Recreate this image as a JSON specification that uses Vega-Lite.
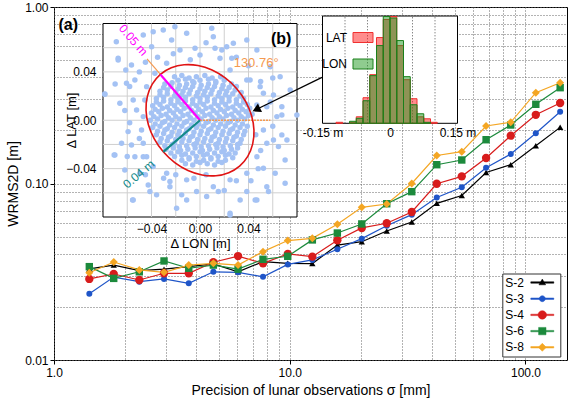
{
  "$schema": "https://vega.github.io/schema/vega-lite/v6.json",
  "width": 513,
  "height": 353,
  "autosize": {"type": "none"},
  "padding": {"left": 54, "top": 7, "right": 1, "bottom": 40},
  "background": "white",
  "config": {
    "font": "Liberation Sans",
    "view": {"stroke": "black", "strokeWidth": 1},
    "axis": {"labelColor": "black", "titleColor": "black", "labelFont": "Liberation Sans", "titleFont": "Liberation Sans"},
    "legend": {"labelFont": "Liberation Sans"}
  },
  "datasets": {
    "main": [
      {"series":"S-2","sigma":1.412,"wrms":0.0328},{"series":"S-2","sigma":1.792,"wrms":0.0345},{"series":"S-2","sigma":2.301,"wrms":0.0321},{"series":"S-2","sigma":2.929,"wrms":0.0327},{"series":"S-2","sigma":3.729,"wrms":0.0338},{"series":"S-2","sigma":4.742,"wrms":0.0350},{"series":"S-2","sigma":6.035,"wrms":0.0316},{"series":"S-2","sigma":7.702,"wrms":0.0361},{"series":"S-2","sigma":9.806,"wrms":0.0353},{"series":"S-2","sigma":12.47,"wrms":0.0352},{"series":"S-2","sigma":15.92,"wrms":0.0448},{"series":"S-2","sigma":20.21,"wrms":0.0468},{"series":"S-2","sigma":25.79,"wrms":0.0538},{"series":"S-2","sigma":32.93,"wrms":0.0605},{"series":"S-2","sigma":42.04,"wrms":0.0772},{"series":"S-2","sigma":53.67,"wrms":0.0855},{"series":"S-2","sigma":68.06,"wrms":0.1154},{"series":"S-2","sigma":86.6,"wrms":0.1278},{"series":"S-2","sigma":110.6,"wrms":0.1635},{"series":"S-2","sigma":140.3,"wrms":0.208},
      {"series":"S-3","sigma":1.412,"wrms":0.0237},{"series":"S-3","sigma":1.792,"wrms":0.0295},{"series":"S-3","sigma":2.301,"wrms":0.0278},{"series":"S-3","sigma":2.929,"wrms":0.0288},{"series":"S-3","sigma":3.729,"wrms":0.0272},{"series":"S-3","sigma":4.742,"wrms":0.0316},{"series":"S-3","sigma":6.035,"wrms":0.0314},{"series":"S-3","sigma":7.702,"wrms":0.0296},{"series":"S-3","sigma":9.806,"wrms":0.0348},{"series":"S-3","sigma":12.47,"wrms":0.0369},{"series":"S-3","sigma":15.92,"wrms":0.0424},{"series":"S-3","sigma":20.21,"wrms":0.0487},{"series":"S-3","sigma":25.79,"wrms":0.0576},{"series":"S-3","sigma":32.93,"wrms":0.0666},{"series":"S-3","sigma":42.04,"wrms":0.0833},{"series":"S-3","sigma":53.67,"wrms":0.0952},{"series":"S-3","sigma":68.06,"wrms":0.1229},{"series":"S-3","sigma":86.6,"wrms":0.1469},{"series":"S-3","sigma":110.6,"wrms":0.1925},{"series":"S-3","sigma":140.3,"wrms":0.255},
      {"series":"S-4","sigma":1.412,"wrms":0.0288},{"series":"S-4","sigma":1.792,"wrms":0.0307},{"series":"S-4","sigma":2.301,"wrms":0.0284},{"series":"S-4","sigma":2.929,"wrms":0.0310},{"series":"S-4","sigma":3.729,"wrms":0.0310},{"series":"S-4","sigma":4.742,"wrms":0.0358},{"series":"S-4","sigma":6.035,"wrms":0.0388},{"series":"S-4","sigma":7.702,"wrms":0.0353},{"series":"S-4","sigma":9.806,"wrms":0.0399},{"series":"S-4","sigma":12.47,"wrms":0.0385},{"series":"S-4","sigma":15.92,"wrms":0.0477},{"series":"S-4","sigma":20.21,"wrms":0.0560},{"series":"S-4","sigma":25.79,"wrms":0.0595},{"series":"S-4","sigma":32.93,"wrms":0.0690},{"series":"S-4","sigma":42.04,"wrms":0.0997},{"series":"S-4","sigma":53.67,"wrms":0.1098},{"series":"S-4","sigma":68.06,"wrms":0.1395},{"series":"S-4","sigma":86.6,"wrms":0.1866},{"series":"S-4","sigma":110.6,"wrms":0.245},{"series":"S-4","sigma":140.3,"wrms":0.286},
      {"series":"S-6","sigma":1.412,"wrms":0.0338},{"series":"S-6","sigma":1.792,"wrms":0.0290},{"series":"S-6","sigma":2.301,"wrms":0.0316},{"series":"S-6","sigma":2.929,"wrms":0.0364},{"series":"S-6","sigma":3.729,"wrms":0.0331},{"series":"S-6","sigma":4.742,"wrms":0.0345},{"series":"S-6","sigma":6.035,"wrms":0.0327},{"series":"S-6","sigma":7.702,"wrms":0.0372},{"series":"S-6","sigma":9.806,"wrms":0.0387},{"series":"S-6","sigma":12.47,"wrms":0.0479},{"series":"S-6","sigma":15.92,"wrms":0.0524},{"series":"S-6","sigma":20.21,"wrms":0.0590},{"series":"S-6","sigma":25.79,"wrms":0.0768},{"series":"S-6","sigma":32.93,"wrms":0.0899},{"series":"S-6","sigma":42.04,"wrms":0.1278},{"series":"S-6","sigma":53.67,"wrms":0.1359},{"series":"S-6","sigma":68.06,"wrms":0.177},{"series":"S-6","sigma":86.6,"wrms":0.2145},{"series":"S-6","sigma":110.6,"wrms":0.281},{"series":"S-6","sigma":140.3,"wrms":0.349},
      {"series":"S-8","sigma":1.412,"wrms":0.0312},{"series":"S-8","sigma":1.792,"wrms":0.0359},{"series":"S-8","sigma":2.301,"wrms":0.0324},{"series":"S-8","sigma":2.929,"wrms":0.0314},{"series":"S-8","sigma":3.729,"wrms":0.0345},{"series":"S-8","sigma":4.742,"wrms":0.0353},{"series":"S-8","sigma":6.035,"wrms":0.0345},{"series":"S-8","sigma":7.702,"wrms":0.0411},{"series":"S-8","sigma":9.806,"wrms":0.0475},{"series":"S-8","sigma":12.47,"wrms":0.0489},{"series":"S-8","sigma":15.92,"wrms":0.0587},{"series":"S-8","sigma":20.21,"wrms":0.0733},{"series":"S-8","sigma":25.79,"wrms":0.0765},{"series":"S-8","sigma":32.93,"wrms":0.100},{"series":"S-8","sigma":42.04,"wrms":0.1441},{"series":"S-8","sigma":53.67,"wrms":0.1514},{"series":"S-8","sigma":68.06,"wrms":0.2117},{"series":"S-8","sigma":86.6,"wrms":0.2222},{"series":"S-8","sigma":110.6,"wrms":0.327},{"series":"S-8","sigma":140.3,"wrms":0.3725}
    ],
    "scatter": [
      {"lon":-0.021,"lat":0.036},{"lon":-0.015,"lat":0.037},{"lon":-0.009,"lat":0.035},{"lon":-0.003,"lat":0.036},{"lon":0.004,"lat":0.037},{"lon":0.010,"lat":0.035},{"lon":0.017,"lat":0.036},
      {"lon":-0.029,"lat":0.030},{"lon":-0.023,"lat":0.031},{"lon":-0.017,"lat":0.029},{"lon":-0.011,"lat":0.030},{"lon":-0.005,"lat":0.031},{"lon":0.001,"lat":0.029},{"lon":0.007,"lat":0.030},{"lon":0.013,"lat":0.031},{"lon":0.019,"lat":0.029},{"lon":0.026,"lat":0.030},
      {"lon":-0.033,"lat":0.024},{"lon":-0.027,"lat":0.025},{"lon":-0.020,"lat":0.023},{"lon":-0.014,"lat":0.024},{"lon":-0.008,"lat":0.025},{"lon":-0.002,"lat":0.023},{"lon":0.004,"lat":0.024},{"lon":0.010,"lat":0.025},{"lon":0.016,"lat":0.023},{"lon":0.022,"lat":0.024},{"lon":0.029,"lat":0.025},{"lon":0.034,"lat":0.023},
      {"lon":-0.036,"lat":0.018},{"lon":-0.030,"lat":0.019},{"lon":-0.024,"lat":0.017},{"lon":-0.018,"lat":0.018},{"lon":-0.012,"lat":0.019},{"lon":-0.006,"lat":0.017},{"lon":0.000,"lat":0.018},{"lon":0.006,"lat":0.019},{"lon":0.012,"lat":0.017},{"lon":0.018,"lat":0.018},{"lon":0.024,"lat":0.019},{"lon":0.030,"lat":0.017},{"lon":0.036,"lat":0.018},
      {"lon":-0.039,"lat":0.012},{"lon":-0.033,"lat":0.013},{"lon":-0.027,"lat":0.011},{"lon":-0.021,"lat":0.012},{"lon":-0.015,"lat":0.013},{"lon":-0.009,"lat":0.011},{"lon":-0.003,"lat":0.012},{"lon":0.003,"lat":0.013},{"lon":0.009,"lat":0.011},{"lon":0.015,"lat":0.012},{"lon":0.021,"lat":0.013},{"lon":0.027,"lat":0.011},{"lon":0.033,"lat":0.012},{"lon":0.039,"lat":0.013},
      {"lon":-0.040,"lat":0.006},{"lon":-0.034,"lat":0.007},{"lon":-0.028,"lat":0.005},{"lon":-0.022,"lat":0.006},{"lon":-0.016,"lat":0.007},{"lon":-0.010,"lat":0.005},{"lon":-0.004,"lat":0.006},{"lon":0.002,"lat":0.007},{"lon":0.008,"lat":0.005},{"lon":0.014,"lat":0.006},{"lon":0.020,"lat":0.007},{"lon":0.026,"lat":0.005},{"lon":0.032,"lat":0.006},{"lon":0.038,"lat":0.007},{"lon":0.043,"lat":0.005},
      {"lon":-0.041,"lat":0.000},{"lon":-0.035,"lat":0.001},{"lon":-0.029,"lat":-0.001},{"lon":-0.023,"lat":0.000},{"lon":-0.017,"lat":0.001},{"lon":-0.011,"lat":-0.001},{"lon":-0.005,"lat":0.000},{"lon":0.001,"lat":0.001},{"lon":0.007,"lat":-0.001},{"lon":0.013,"lat":0.000},{"lon":0.019,"lat":0.001},{"lon":0.025,"lat":-0.001},{"lon":0.031,"lat":0.000},{"lon":0.037,"lat":0.001},
      {"lon":-0.039,"lat":-0.006},{"lon":-0.033,"lat":-0.005},{"lon":-0.027,"lat":-0.007},{"lon":-0.021,"lat":-0.006},{"lon":-0.015,"lat":-0.005},{"lon":-0.009,"lat":-0.007},{"lon":-0.003,"lat":-0.006},{"lon":0.003,"lat":-0.005},{"lon":0.009,"lat":-0.007},{"lon":0.015,"lat":-0.006},{"lon":0.021,"lat":-0.005},{"lon":0.027,"lat":-0.007},{"lon":0.033,"lat":-0.006},{"lon":0.039,"lat":-0.005},
      {"lon":-0.036,"lat":-0.012},{"lon":-0.030,"lat":-0.011},{"lon":-0.024,"lat":-0.013},{"lon":-0.018,"lat":-0.012},{"lon":-0.012,"lat":-0.011},{"lon":-0.006,"lat":-0.013},{"lon":0.000,"lat":-0.012},{"lon":0.006,"lat":-0.011},{"lon":0.012,"lat":-0.013},{"lon":0.018,"lat":-0.012},{"lon":0.024,"lat":-0.011},{"lon":0.030,"lat":-0.013},{"lon":0.036,"lat":-0.012},
      {"lon":-0.033,"lat":-0.018},{"lon":-0.027,"lat":-0.017},{"lon":-0.021,"lat":-0.019},{"lon":-0.015,"lat":-0.018},{"lon":-0.009,"lat":-0.017},{"lon":-0.003,"lat":-0.019},{"lon":0.003,"lat":-0.018},{"lon":0.009,"lat":-0.017},{"lon":0.015,"lat":-0.019},{"lon":0.021,"lat":-0.018},{"lon":0.027,"lat":-0.017},{"lon":0.033,"lat":-0.019},
      {"lon":-0.028,"lat":-0.024},{"lon":-0.022,"lat":-0.023},{"lon":-0.016,"lat":-0.025},{"lon":-0.010,"lat":-0.024},{"lon":-0.004,"lat":-0.023},{"lon":0.002,"lat":-0.025},{"lon":0.008,"lat":-0.024},{"lon":0.014,"lat":-0.023},{"lon":0.020,"lat":-0.025},{"lon":0.026,"lat":-0.024},{"lon":0.031,"lat":-0.023},
      {"lon":-0.021,"lat":-0.030},{"lon":-0.015,"lat":-0.029},{"lon":-0.009,"lat":-0.031},{"lon":-0.003,"lat":-0.030},{"lon":0.003,"lat":-0.029},{"lon":0.009,"lat":-0.031},{"lon":0.015,"lat":-0.030},{"lon":0.021,"lat":-0.029},{"lon":0.027,"lat":-0.031},
      {"lon":-0.012,"lat":-0.036},{"lon":-0.006,"lat":-0.037},{"lon":0.000,"lat":-0.035},{"lon":0.006,"lat":-0.036},{"lon":0.012,"lat":-0.037},{"lon":0.018,"lat":-0.035},
      {"lon":-0.018,"lat":0.033},{"lon":-0.012,"lat":0.034},{"lon":-0.006,"lat":0.032},{"lon":0.000,"lat":0.033},{"lon":0.007,"lat":0.034},{"lon":0.013,"lat":0.032},{"lon":0.020,"lat":0.033},
      {"lon":-0.030,"lat":0.027},{"lon":-0.024,"lat":0.028},{"lon":-0.018,"lat":0.026},{"lon":-0.012,"lat":0.027},{"lon":-0.006,"lat":0.028},{"lon":0.000,"lat":0.026},{"lon":0.006,"lat":0.027},{"lon":0.012,"lat":0.028},{"lon":0.018,"lat":0.026},{"lon":0.024,"lat":0.027},{"lon":0.030,"lat":0.028},
      {"lon":-0.033,"lat":0.021},{"lon":-0.027,"lat":0.022},{"lon":-0.021,"lat":0.020},{"lon":-0.015,"lat":0.021},{"lon":-0.009,"lat":0.022},{"lon":-0.003,"lat":0.020},{"lon":0.003,"lat":0.021},{"lon":0.009,"lat":0.022},{"lon":0.015,"lat":0.020},{"lon":0.021,"lat":0.021},{"lon":0.027,"lat":0.022},{"lon":0.033,"lat":0.020},
      {"lon":-0.036,"lat":0.015},{"lon":-0.030,"lat":0.016},{"lon":-0.024,"lat":0.014},{"lon":-0.018,"lat":0.015},{"lon":-0.012,"lat":0.016},{"lon":-0.006,"lat":0.014},{"lon":0.000,"lat":0.015},{"lon":0.006,"lat":0.016},{"lon":0.012,"lat":0.014},{"lon":0.018,"lat":0.015},{"lon":0.024,"lat":0.016},{"lon":0.030,"lat":0.014},{"lon":0.036,"lat":0.015},
      {"lon":-0.037,"lat":0.009},{"lon":-0.031,"lat":0.010},{"lon":-0.025,"lat":0.008},{"lon":-0.019,"lat":0.009},{"lon":-0.013,"lat":0.010},{"lon":-0.007,"lat":0.008},{"lon":-0.001,"lat":0.009},{"lon":0.005,"lat":0.010},{"lon":0.011,"lat":0.008},{"lon":0.017,"lat":0.009},{"lon":0.023,"lat":0.010},{"lon":0.029,"lat":0.008},{"lon":0.035,"lat":0.009},{"lon":0.041,"lat":0.010},
      {"lon":-0.038,"lat":0.003},{"lon":-0.032,"lat":0.004},{"lon":-0.026,"lat":0.002},{"lon":-0.020,"lat":0.003},{"lon":-0.014,"lat":0.004},{"lon":-0.008,"lat":0.002},{"lon":-0.002,"lat":0.003},{"lon":0.004,"lat":0.004},{"lon":0.010,"lat":0.002},{"lon":0.016,"lat":0.003},{"lon":0.022,"lat":0.004},{"lon":0.028,"lat":0.002},{"lon":0.034,"lat":0.003},{"lon":0.040,"lat":0.004},
      {"lon":-0.037,"lat":-0.003},{"lon":-0.031,"lat":-0.002},{"lon":-0.025,"lat":-0.004},{"lon":-0.019,"lat":-0.003},{"lon":-0.013,"lat":-0.002},{"lon":-0.007,"lat":-0.004},{"lon":-0.001,"lat":-0.003},{"lon":0.005,"lat":-0.002},{"lon":0.011,"lat":-0.004},{"lon":0.017,"lat":-0.003},{"lon":0.023,"lat":-0.002},{"lon":0.029,"lat":-0.004},{"lon":0.035,"lat":-0.003},
      {"lon":-0.035,"lat":-0.009},{"lon":-0.029,"lat":-0.008},{"lon":-0.023,"lat":-0.010},{"lon":-0.017,"lat":-0.009},{"lon":-0.011,"lat":-0.008},{"lon":-0.005,"lat":-0.010},{"lon":0.001,"lat":-0.009},{"lon":0.007,"lat":-0.008},{"lon":0.013,"lat":-0.010},{"lon":0.019,"lat":-0.009},{"lon":0.025,"lat":-0.008},{"lon":0.031,"lat":-0.010},{"lon":0.037,"lat":-0.009},
      {"lon":-0.032,"lat":-0.015},{"lon":-0.026,"lat":-0.014},{"lon":-0.020,"lat":-0.016},{"lon":-0.014,"lat":-0.015},{"lon":-0.008,"lat":-0.014},{"lon":-0.002,"lat":-0.016},{"lon":0.004,"lat":-0.015},{"lon":0.010,"lat":-0.014},{"lon":0.016,"lat":-0.016},{"lon":0.022,"lat":-0.015},{"lon":0.028,"lat":-0.014},{"lon":0.034,"lat":-0.016},
      {"lon":-0.029,"lat":-0.021},{"lon":-0.023,"lat":-0.020},{"lon":-0.017,"lat":-0.022},{"lon":-0.011,"lat":-0.021},{"lon":-0.005,"lat":-0.020},{"lon":0.001,"lat":-0.022},{"lon":0.007,"lat":-0.021},{"lon":0.013,"lat":-0.020},{"lon":0.019,"lat":-0.022},{"lon":0.025,"lat":-0.021},{"lon":0.031,"lat":-0.020},
      {"lon":-0.024,"lat":-0.027},{"lon":-0.018,"lat":-0.026},{"lon":-0.012,"lat":-0.028},{"lon":-0.006,"lat":-0.027},{"lon":0.000,"lat":-0.026},{"lon":0.006,"lat":-0.028},{"lon":0.012,"lat":-0.027},{"lon":0.018,"lat":-0.026},{"lon":0.024,"lat":-0.028},{"lon":0.029,"lat":-0.027},
      {"lon":-0.015,"lat":-0.033},{"lon":-0.009,"lat":-0.032},{"lon":-0.003,"lat":-0.034},{"lon":0.003,"lat":-0.033},{"lon":0.009,"lat":-0.032},{"lon":0.015,"lat":-0.034},{"lon":0.021,"lat":-0.033},
      {"lon":-0.069,"lat":0.065},{"lon":-0.0675,"lat":0.0498},{"lon":-0.0785,"lat":0.0215},{"lon":-0.0708,"lat":-0.0287},{"lon":-0.0556,"lat":-0.0659},{"lon":-0.0612,"lat":0.0415},{"lon":-0.0537,"lat":0.0333},{"lon":-0.0551,"lat":0.0168},{"lon":-0.0523,"lat":0.0085},{"lon":-0.0593,"lat":-0.0094},{"lon":-0.0565,"lat":-0.0204},{"lon":-0.0537,"lat":-0.0301},{"lon":-0.0496,"lat":-0.0438},{"lon":-0.0427,"lat":-0.0535},{"lon":-0.0358,"lat":-0.0617},{"lon":-0.0248,"lat":-0.0549},{"lon":-0.0151,"lat":-0.0617},{"lon":-0.0028,"lat":-0.059},{"lon":0.0248,"lat":-0.0769},{"lon":0.0331,"lat":-0.0659},{"lon":0.0469,"lat":-0.0659},{"lon":0.0565,"lat":-0.059},{"lon":0.062,"lat":-0.0438},{"lon":0.0702,"lat":-0.0328},{"lon":0.0647,"lat":-0.0218},{"lon":0.0717,"lat":-0.0163},{"lon":0.0634,"lat":0.003},{"lon":0.0744,"lat":0.025},{"lon":0.0661,"lat":0.036},{"lon":0.0579,"lat":0.0443},{"lon":0.0469,"lat":0.0581},{"lon":0.0275,"lat":0.0636},{"lon":0.011,"lat":0.0691},{"lon":-0.011,"lat":0.0719},{"lon":-0.0303,"lat":0.0746},{"lon":-0.0399,"lat":0.0608},{"lon":-0.0468,"lat":0.0705},{"lon":-0.0165,"lat":0.0581},{"lon":0.0,"lat":0.054},{"lon":0.0165,"lat":0.0512},{"lon":0.0248,"lat":0.0416},{"lon":0.0386,"lat":0.0333},{"lon":0.0523,"lat":0.0223},{"lon":0.0551,"lat":0.0112},{"lon":0.0523,"lat":-0.008},{"lon":0.0551,"lat":-0.019},{"lon":0.0469,"lat":-0.0301},{"lon":0.0386,"lat":-0.0438},{"lon":0.0248,"lat":-0.0493},{"lon":0.011,"lat":-0.0549},{"lon":-0.011,"lat":-0.0493},{"lon":-0.0275,"lat":-0.0438},{"lon":-0.0386,"lat":-0.0383},{"lon":-0.044,"lat":-0.0301},{"lon":-0.0468,"lat":-0.019},{"lon":-0.0482,"lat":-0.008},{"lon":-0.0468,"lat":0.003},{"lon":-0.0455,"lat":0.0168},{"lon":-0.044,"lat":0.0278},{"lon":-0.0372,"lat":0.0388},{"lon":-0.0275,"lat":0.0471},
      {"lon":-0.0702,"lat":-0.0287},{"lon":-0.0647,"lat":-0.019},{"lon":-0.0551,"lat":-0.0659},{"lon":-0.0193,"lat":-0.0727},{"lon":-0.011,"lat":-0.0659},{"lon":0.0055,"lat":-0.0631},{"lon":0.0151,"lat":-0.059},{"lon":0.0248,"lat":-0.0783},{"lon":0.0455,"lat":-0.0659},{"lon":0.0551,"lat":-0.0549},{"lon":0.0675,"lat":-0.0121},{"lon":0.0702,"lat":-0.0521},{"lon":0.0606,"lat":-0.0163},{"lon":0.0523,"lat":-0.0397},{"lon":0.0386,"lat":-0.059},{"lon":-0.0248,"lat":-0.0507},{"lon":-0.0413,"lat":-0.059},{"lon":-0.0468,"lat":-0.0301},{"lon":-0.062,"lat":-0.0411},
      {"lon":-0.0785,"lat":0.0217},{"lon":-0.0675,"lat":0.0512},{"lon":-0.0661,"lat":0.014},{"lon":-0.0606,"lat":0.0306},{"lon":-0.0565,"lat":0.0457},{"lon":-0.0386,"lat":0.0732},{"lon":-0.0234,"lat":0.0664},{"lon":-0.0207,"lat":0.0774},{"lon":-0.0041,"lat":0.0595},{"lon":0.0097,"lat":0.076},{"lon":0.0124,"lat":0.0595},{"lon":0.022,"lat":0.0608},{"lon":0.0386,"lat":0.0664},{"lon":0.0262,"lat":0.0512},{"lon":0.0413,"lat":0.0333},{"lon":0.0496,"lat":0.0278},{"lon":0.0606,"lat":0.0209},{"lon":0.0675,"lat":0.0044},{"lon":0.0799,"lat":0.0044},{"lon":0.0675,"lat":0.0112},{"lon":0.0469,"lat":0.0126},
      {"lon":-0.050,"lat":0.040},{"lon":-0.045,"lat":0.048},{"lon":-0.058,"lat":0.028},{"lon":-0.062,"lat":0.008},{"lon":-0.058,"lat":-0.002},{"lon":-0.050,"lat":-0.015},{"lon":-0.060,"lat":-0.030},{"lon":-0.045,"lat":-0.045},{"lon":-0.030,"lat":-0.048},{"lon":-0.020,"lat":-0.045},{"lon":-0.005,"lat":-0.048},{"lon":0.005,"lat":-0.045},{"lon":0.020,"lat":-0.058},{"lon":0.030,"lat":-0.050},{"lon":0.042,"lat":-0.050},{"lon":0.048,"lat":-0.040},{"lon":0.050,"lat":-0.025},{"lon":0.046,"lat":-0.012},{"lon":0.060,"lat":-0.005},{"lon":0.058,"lat":0.015},{"lon":0.050,"lat":0.032},{"lon":0.040,"lat":0.045},{"lon":0.030,"lat":0.052},{"lon":0.018,"lat":0.058},{"lon":0.005,"lat":0.064},{"lon":-0.008,"lat":0.050},{"lon":-0.022,"lat":0.055},{"lon":-0.035,"lat":0.052},{"lon":0.060,"lat":0.035},{"lon":-0.070,"lat":0.030}
    ],
    "ellipse": [
      {"i":0,"ex":-0.03265,"ey":0.03787},{"i":1,"ex":-0.03938,"ey":0.02981},{"i":2,"ex":-0.04342,"ey":0.01973},{"i":3,"ex":-0.04451,"ey":0.00830},{"i":4,"ex":-0.04256,"ey":-0.00369},{"i":5,"ex":-0.03771,"ey":-0.01543},{"i":6,"ex":-0.03029,"ey":-0.02612},{"i":7,"ex":-0.02081,"ey":-0.03503},{"i":8,"ex":-0.00991,"ey":-0.04155},{"i":9,"ex":0.00167,"ey":-0.04524},{"i":10,"ex":0.01313,"ey":-0.04585},{"i":11,"ex":0.02370,"ey":-0.04333},
      {"i":12,"ex":0.03265,"ey":-0.03787},{"i":13,"ex":0.03938,"ey":-0.02981},{"i":14,"ex":0.04342,"ey":-0.01973},{"i":15,"ex":0.04451,"ey":-0.00830},{"i":16,"ex":0.04256,"ey":0.00369},{"i":17,"ex":0.03771,"ey":0.01543},{"i":18,"ex":0.03029,"ey":0.02612},{"i":19,"ex":0.02081,"ey":0.03503},{"i":20,"ex":0.00991,"ey":0.04155},{"i":21,"ex":-0.00167,"ey":0.04524},{"i":22,"ex":-0.01313,"ey":0.04585},{"i":23,"ex":-0.02370,"ey":0.04333}
    ],
    "hist": [
      {"comp":"LAT","b0":-0.12,"b1":-0.105,"n":2},{"comp":"LAT","b0":-0.09,"b1":-0.075,"n":2},{"comp":"LAT","b0":-0.075,"b1":-0.06,"n":13},{"comp":"LAT","b0":-0.06,"b1":-0.045,"n":51},{"comp":"LAT","b0":-0.045,"b1":-0.03,"n":97},{"comp":"LAT","b0":-0.03,"b1":-0.015,"n":171},{"comp":"LAT","b0":-0.015,"b1":0,"n":207},{"comp":"LAT","b0":0,"b1":0.015,"n":213},{"comp":"LAT","b0":0.015,"b1":0.03,"n":155},{"comp":"LAT","b0":0.03,"b1":0.045,"n":87},{"comp":"LAT","b0":0.045,"b1":0.06,"n":49},{"comp":"LAT","b0":0.06,"b1":0.075,"n":13},{"comp":"LAT","b0":0.075,"b1":0.09,"n":9},{"comp":"LAT","b0":0.09,"b1":0.105,"n":2},
      {"comp":"LON","b0":-0.09,"b1":-0.075,"n":4},{"comp":"LON","b0":-0.075,"b1":-0.06,"n":10},{"comp":"LON","b0":-0.06,"b1":-0.045,"n":45},{"comp":"LON","b0":-0.045,"b1":-0.03,"n":95},{"comp":"LON","b0":-0.03,"b1":-0.015,"n":155},{"comp":"LON","b0":-0.015,"b1":0,"n":213},{"comp":"LON","b0":0,"b1":0.015,"n":210},{"comp":"LON","b0":0.015,"b1":0.03,"n":165},{"comp":"LON","b0":0.03,"b1":0.045,"n":93},{"comp":"LON","b0":0.045,"b1":0.06,"n":37},{"comp":"LON","b0":0.06,"b1":0.075,"n":19},{"comp":"LON","b0":0.075,"b1":0.09,"n":2}
    ],
    "sgrid": [{"v":-0.06},{"v":-0.04},{"v":-0.02},{"v":0},{"v":0.02},{"v":0.04},{"v":0.06}],
    "hgrid": [{"v":-0.1},{"v":-0.05},{"v":0},{"v":0.05},{"v":0.1}],
    "one": [{}]
  },
  "layer": [
    {
      "layer": [
        {
          "data": {"name": "main"},
          "mark": {"type": "line", "strokeWidth": 1.2},
          "encoding": {
            "x": {"field": "sigma", "type": "quantitative",
              "scale": {"type": "log", "domain": [1, 150], "nice": false},
              "axis": {"title": "Precision of lunar observations σ [mm]", "values": [1,2,3,4,5,6,7,8,9,10,20,30,40,50,60,70,80,90,100],
                "labelExpr": "datum.value==1?'1.0':datum.value==10?'10.0':datum.value==100?'100.0':''",
                "labelFlush": false, "labelOverlap": false, "labelFontSize": 12, "labelPadding": 3,
                "grid": true, "gridDash": [1, 2], "gridColor": "#666666", "gridOpacity": 1, "domain": false,
                "tickSize": 4, "tickColor": "black", "tickOpacity": {"condition": {"test": "datum.value==1||datum.value==10||datum.value==100", "value": 1}, "value": 0},
                "titleFontSize": 14, "titleFontWeight": "normal", "titlePadding": 5}},
            "y": {"field": "wrms", "type": "quantitative",
              "scale": {"type": "log", "domain": [0.01, 1], "nice": false},
              "axis": {"title": "WRMS2D [m]", "values": [0.01,0.02,0.03,0.04,0.05,0.06,0.07,0.08,0.09,0.1,0.2,0.3,0.4,0.5,0.6,0.7,0.8,0.9,1],
                "labelExpr": "datum.value==0.01?'0.01':datum.value==0.1?'0.10':datum.value==1?'1.00':''",
                "labelFlush": false, "labelOverlap": false, "labelFontSize": 12, "labelPadding": 2,
                "grid": true, "gridDash": [1, 2], "gridColor": "#666666", "gridOpacity": 1, "domain": false,
                "tickSize": 4, "tickColor": "black", "tickOpacity": {"condition": {"test": "datum.value==0.01||datum.value==0.1||datum.value==1", "value": 1}, "value": 0},
                "titleFontSize": 14, "titleFontWeight": "normal", "titlePadding": 4}},
            "color": {"field": "series", "type": "nominal",
              "scale": {"domain": ["S-2","S-3","S-4","S-6","S-8"], "range": ["#000000","#1f55c8","#d81c1c","#1c8a3c","#f4a623"]},
              "legend": {"title": null, "orient": "none", "legendX": 448.3, "legendY": 266.5, "padding": 3,
                "strokeColor": "#333333", "fillColor": "white", "cornerRadius": 0,
                "labelFontSize": 12, "labelColor": "black", "labelExpr": "'\u00a0\u00a0' + datum.label",
                "symbolSize": 100, "rowPadding": 4.2,
                "encode": {
                  "labels": {"update": {"x": {"value": 0}, "align": {"value": "left"}}},
                  "symbols": {"update": {
                  "x": {"value": 37},
                  "size": {"value": 100},
                  "shape": {"signal": "datum.value==='S-2'?'M-2.3,-0.14L2.3,-0.14L2.3,0.14L-2.3,0.14ZM0,-0.69L0.67,0.46L-0.67,0.46ZM2.76,0':datum.value==='S-3'?'M-2.3,-0.14L2.3,-0.14L2.3,0.14L-2.3,0.14ZM0.6,0A0.6,0.6,0,1,1,-0.6,0A0.6,0.6,0,1,1,0.6,0ZM2.76,0':datum.value==='S-4'?'M-2.3,-0.14L2.3,-0.14L2.3,0.14L-2.3,0.14ZM0.85,0A0.85,0.85,0,1,1,-0.85,0A0.85,0.85,0,1,1,0.85,0ZM2.76,0':datum.value==='S-6'?'M-2.3,-0.14L2.3,-0.14L2.3,0.14L-2.3,0.14ZM-0.74,-0.74L0.74,-0.74L0.74,0.74L-0.74,0.74ZM2.76,0':'M-2.3,-0.14L2.3,-0.14L2.3,0.14L-2.3,0.14ZM0,-0.8L0.8,0L0,0.8L-0.8,0ZM2.76,0'"},
                  "fill": {"signal": "datum.value==='S-2'?'#000000':datum.value==='S-3'?'#1f55c8':datum.value==='S-4'?'#d81c1c':datum.value==='S-6'?'#1c8a3c':'#f4a623'"},
                  "stroke": {"signal": "datum.value==='S-2'?'#000000':datum.value==='S-3'?'#1f55c8':datum.value==='S-4'?'#d81c1c':datum.value==='S-6'?'#1c8a3c':'#f4a623'"},
                  "fillOpacity": {"value": 1},
                  "strokeOpacity": {"value": 1},
                  "opacity": {"value": 1},
                  "strokeWidth": {"value": 0.5}
                }}}}}
          }
        },
        {
          "data": {"name": "main"},
          "transform": [{"filter": "datum.series==='S-2'"}],
          "mark": {"type": "point", "shape": "triangle-up", "filled": true, "size": 40, "opacity": 1},
          "encoding": {"x": {"field": "sigma", "type": "quantitative"}, "y": {"field": "wrms", "type": "quantitative"}, "color": {"field": "series", "type": "nominal", "legend": null}}
        },
        {
          "data": {"name": "main"},
          "transform": [{"filter": "datum.series==='S-3'"}],
          "mark": {"type": "point", "shape": "circle", "filled": true, "size": 36, "opacity": 1},
          "encoding": {"x": {"field": "sigma", "type": "quantitative"}, "y": {"field": "wrms", "type": "quantitative"}, "color": {"field": "series", "type": "nominal", "legend": null}}
        },
        {
          "data": {"name": "main"},
          "transform": [{"filter": "datum.series==='S-4'"}],
          "mark": {"type": "point", "shape": "circle", "filled": true, "size": 70, "opacity": 1},
          "encoding": {"x": {"field": "sigma", "type": "quantitative"}, "y": {"field": "wrms", "type": "quantitative"}, "color": {"field": "series", "type": "nominal", "legend": null}}
        },
        {
          "data": {"name": "main"},
          "transform": [{"filter": "datum.series==='S-6'"}],
          "mark": {"type": "point", "shape": "square", "filled": true, "size": 55, "opacity": 1},
          "encoding": {"x": {"field": "sigma", "type": "quantitative"}, "y": {"field": "wrms", "type": "quantitative"}, "color": {"field": "series", "type": "nominal", "legend": null}}
        },
        {
          "data": {"name": "main"},
          "transform": [{"filter": "datum.series==='S-8'"}],
          "mark": {"type": "point", "shape": "diamond", "filled": true, "size": 64, "opacity": 1},
          "encoding": {"x": {"field": "sigma", "type": "quantitative"}, "y": {"field": "wrms", "type": "quantitative"}, "color": {"field": "series", "type": "nominal", "legend": null}}
        },
        {
          "data": {"name": "one"},
          "mark": {"type": "text", "text": "(a)", "fontSize": 16, "fontWeight": "bold", "color": "black"},
          "encoding": {"x": {"datum": 1.15, "type": "quantitative"}, "y": {"datum": 0.79, "type": "quantitative"}}
        }
      ]
    },
    {
      "layer": [
        {
          "data": {"name": "one"},
          "mark": {"type": "rect", "fill": "white", "stroke": "black", "strokeWidth": 1},
          "encoding": {
            "x": {"datum": -0.08, "type": "quantitative",
              "scale": {"domain": [-0.08, 0.08], "range": [49, 243], "nice": false, "zero": false},
              "axis": {"orient": "bottom", "offset": -143, "values": [-0.04, 0, 0.04], "format": ".2f", "grid": false, "domain": false, "ticks": false,
                "labelPadding": 6, "labelFontSize": 12, "labelFlush": false, "labelOverlap": false,
                "title": "Δ LON [m]", "titleFontSize": 13, "titleFontWeight": "normal", "titlePadding": 3}},
            "x2": {"datum": 0.08},
            "y": {"datum": -0.08, "type": "quantitative",
              "scale": {"domain": [-0.08, 0.08], "range": [210, 16.5], "nice": false, "zero": false},
              "axis": {"orient": "left", "offset": -49, "values": [-0.04, 0, 0.04], "format": ".2f", "grid": false, "domain": false, "ticks": false,
                "labelPadding": 7, "labelFontSize": 12, "labelFlush": false, "labelOverlap": false,
                "title": "Δ LAT [m]", "titleFontSize": 13, "titleFontWeight": "normal", "titleX": -32, "titleY": 113, "titleBaseline": "middle", "titleAlign": "center", "titleAngle": -90}},
            "y2": {"datum": 0.08}
          }
        },
        {
          "data": {"name": "sgrid"},
          "mark": {"type": "rule", "color": "#cfcfcf", "strokeWidth": 1},
          "encoding": {"x": {"field": "v", "type": "quantitative"}, "y": {"datum": -0.08, "type": "quantitative"}, "y2": {"datum": 0.08}}
        },
        {
          "data": {"name": "sgrid"},
          "mark": {"type": "rule", "color": "#cfcfcf", "strokeWidth": 1},
          "encoding": {"y": {"field": "v", "type": "quantitative"}, "x": {"datum": -0.08, "type": "quantitative"}, "x2": {"datum": 0.08}}
        },
        {
          "data": {"name": "scatter"},
          "mark": {"type": "point", "filled": true, "size": 30, "color": "#a4c2f4", "opacity": 1},
          "encoding": {"x": {"field": "lon", "type": "quantitative"}, "y": {"field": "lat", "type": "quantitative"}}
        },
        {
          "data": {"name": "one"},
          "mark": {"type": "rule", "color": "#f59a50", "strokeWidth": 1.5, "strokeDash": [2, 1]},
          "encoding": {"x": {"datum": 0, "type": "quantitative"}, "x2": {"datum": 0.058}, "y": {"datum": 0, "type": "quantitative"}}
        },
        {
          "data": {"name": "one"},
          "mark": {"type": "rule", "color": "#f59a50", "strokeWidth": 1.2},
          "encoding": {"x": {"datum": -0.03265, "type": "quantitative"}, "x2": {"datum": -0.0437}, "y": {"datum": 0.03787, "type": "quantitative"}, "y2": {"datum": 0.0507}}
        },
        {
          "data": {"name": "ellipse"},
          "mark": {"type": "line", "color": "#e01414", "strokeWidth": 1.6, "interpolate": "cardinal-closed"},
          "encoding": {"x": {"field": "ex", "type": "quantitative"}, "y": {"field": "ey", "type": "quantitative"}, "order": {"field": "i", "type": "quantitative"}}
        },
        {
          "data": {"name": "one"},
          "mark": {"type": "rule", "color": "#ff00ff", "strokeWidth": 2.2},
          "encoding": {"x": {"datum": 0, "type": "quantitative"}, "x2": {"datum": -0.03265}, "y": {"datum": 0, "type": "quantitative"}, "y2": {"datum": 0.03787}}
        },
        {
          "data": {"name": "one"},
          "mark": {"type": "rule", "color": "#128a8a", "strokeWidth": 2.2},
          "encoding": {"x": {"datum": 0, "type": "quantitative"}, "x2": {"datum": -0.03029}, "y": {"datum": 0, "type": "quantitative"}, "y2": {"datum": -0.02612}}
        },
        {
          "data": {"name": "one"},
          "mark": {"type": "text", "text": "0.05 m", "color": "#ff00ff", "fontSize": 12, "angle": 49},
          "encoding": {"x": {"datum": -0.0551, "type": "quantitative"}, "y": {"datum": 0.0663, "type": "quantitative"}}
        },
        {
          "data": {"name": "one"},
          "mark": {"type": "text", "text": "0.04 m", "color": "#128a8a", "fontSize": 12, "angle": -40},
          "encoding": {"x": {"datum": -0.0505, "type": "quantitative"}, "y": {"datum": -0.0445, "type": "quantitative"}}
        },
        {
          "data": {"name": "one"},
          "mark": {"type": "text", "text": "130.76°", "color": "#f59a50", "fontSize": 13},
          "encoding": {"x": {"datum": 0.0463, "type": "quantitative"}, "y": {"datum": 0.0474, "type": "quantitative"}}
        },
        {
          "data": {"name": "one"},
          "mark": {"type": "text", "text": "(b)", "color": "black", "fontSize": 16, "fontWeight": "bold"},
          "encoding": {"x": {"datum": 0.0669, "type": "quantitative"}, "y": {"datum": 0.0672, "type": "quantitative"}}
        },
        {
          "data": {"name": "one"},
          "mark": {"type": "rule", "color": "black", "strokeWidth": 1.3},
          "encoding": {"x": {"datum": 0.1006, "type": "quantitative"}, "x2": {"datum": 0.0464}, "y": {"datum": 0.0355, "type": "quantitative"}, "y2": {"datum": 0.0089}}
        },
        {
          "data": {"name": "one"},
          "mark": {"type": "point", "shape": "triangle-right", "filled": true, "color": "black", "size": 90, "angle": 154, "opacity": 1},
          "encoding": {"x": {"datum": 0.0464, "type": "quantitative"}, "y": {"datum": 0.0089, "type": "quantitative"}}
        }
      ]
    },
    {
      "layer": [
        {
          "data": {"name": "one"},
          "mark": {"type": "rect", "fill": "white", "stroke": "black", "strokeWidth": 1},
          "encoding": {
            "x": {"datum": -0.15, "type": "quantitative",
              "scale": {"domain": [-0.15, 0.15], "range": [268.5, 403.5], "nice": false, "zero": false},
              "axis": {"orient": "bottom", "offset": -236.7, "values": [-0.15, 0, 0.15],
                "labelExpr": "datum.value<0?'-0.15 m':datum.value>0?'0.15 m':'0'",
                "grid": false, "domain": false, "ticks": false, "labelPadding": 4, "labelFontSize": 12, "labelFlush": false, "labelOverlap": false, "title": null}},
            "x2": {"datum": 0.15},
            "y": {"datum": 0, "type": "quantitative", "scale": {"domain": [0, 214], "range": [116.3, 9], "nice": false, "zero": false}, "axis": null},
            "y2": {"datum": 214}
          }
        },
        {
          "data": {"name": "hgrid"},
          "mark": {"type": "rule", "color": "#555555", "strokeWidth": 1, "strokeDash": [1, 2]},
          "encoding": {"x": {"field": "v", "type": "quantitative"}, "y": {"datum": 0, "type": "quantitative", "axis": null}, "y2": {"datum": 214}}
        },
        {
          "data": {"name": "hist"},
          "mark": {"type": "rect", "fillOpacity": 0.5, "strokeWidth": 1},
          "encoding": {
            "x": {"field": "b0", "type": "quantitative"},
            "x2": {"field": "b1"},
            "y": {"field": "n", "type": "quantitative", "axis": null},
            "y2": {"datum": 0},
            "fill": {"field": "comp", "type": "nominal",
              "scale": {"domain": ["LAT", "LON"], "range": ["#ff1a1a", "#1f9a1f"]},
              "legend": {"title": null, "orient": "none", "legendX": 265, "legendY": 20, "padding": 0,
                "symbolType": "M-1,-0.5H1V0.5H-1Z", "symbolSize": 100,
                "labelFontSize": 12, "labelColor": "black", "rowPadding": 8.5,
                "encode": {
                  "labels": {"update": {"x": {"value": 28}, "align": {"value": "right"}}},
                  "symbols": {"update": {"x": {"value": 44}, "size": {"value": 400}, "fillOpacity": {"value": 0.5}, "opacity": {"value": 1}, "strokeWidth": {"value": 1},
                  "stroke": {"signal": "datum.value==='LAT'?'#ff1a1a':'#1f9a1f'"}}}}}},
            "stroke": {"field": "comp", "type": "nominal", "scale": {"domain": ["LAT", "LON"], "range": ["#f03030", "#1a801a"]}, "legend": null}
          }
        }
      ]
    }
  ],
  "resolve": {"scale": {"x": "independent", "y": "independent"}, "axis": {"x": "independent", "y": "independent"}}
}
